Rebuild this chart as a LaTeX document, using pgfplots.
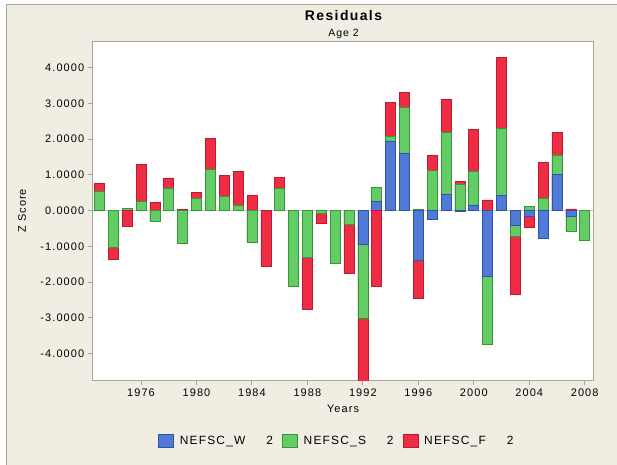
\documentclass[border=0pt]{standalone}
\usepackage{fontspec}
\setmainfont{Liberation Sans}[LetterSpace=10]
\usepackage{pgfplots}
\pgfplotsset{compat=1.18}
\usepackage{pgfplotstable}

\definecolor{bgc}{RGB}{240,238,226}
\definecolor{framec}{RGB}{168,166,156}
\definecolor{bfill}{RGB}{80,122,214}
\definecolor{bedge}{RGB}{50,82,170}
\definecolor{gfill}{RGB}{100,204,100}
\definecolor{gedge}{RGB}{55,150,55}
\definecolor{rfill}{RGB}{238,44,68}
\definecolor{redge}{RGB}{190,25,45}

\pgfplotstableread{
year W S F
1973 0 0.55 0.22
1974 0 -1.03 -0.33
1975 0 0.07 -0.45
1976 0 0.27 1.03
1977 0 -0.31 0.23
1978 0 0.64 0.28
1979 0 -0.92 0.04
1980 0 0.36 0.15
1981 0 1.15 0.88
1982 0 0.39 0.60
1983 0 0.14 0.95
1984 0 -0.89 0.43
1985 0 0 -1.55
1986 0 0.62 0.32
1987 0 -2.13 0.01
1988 0 -1.31 -1.45
1989 0 -0.08 -0.27
1990 0 -1.48 0.01
1991 0 -0.37 -1.37
1992 -0.95 -2.06 -1.90
1993 0.25 0.41 -2.13
1994 1.93 0.14 0.96
1995 1.60 1.29 0.43
1996 -1.38 0.03 -1.06
1997 -0.25 1.13 0.42
1998 0.46 1.73 0.93
1999 -0.03 0.75 0.06
2000 0.15 0.95 1.18
2001 -1.83 -1.90 0.30
2002 0.43 1.87 2.00
2003 -0.40 -0.33 -1.60
2004 -0.17 0.13 -0.30
2005 -0.78 0.34 1.02
2006 1.01 0.55 0.62
2007 -0.17 -0.41 0.05
2008 0 -0.83 0
}\resid

\pgfplotsset{
  mybar/.style={ybar, bar width=10bp, bar shift=0pt, line width=0.6bp, forget plot},
  pos/.style={restrict y to domain=0.001:100},
  neg/.style={restrict y to domain=-100:-0.001},
}

\begin{document}
\begin{tikzpicture}
\useasboundingbox (0,0) rectangle (617bp,465bp);
\fill[white] (0,0) rectangle (617bp,465bp);
\fill[bgc] (6.5bp,0) rectangle (617bp,460.7bp);
\draw[framec, line width=1.2bp] (6.5bp,0) -- (6.5bp,460.7bp) -- (617bp,460.7bp);
\node[font=\bfseries\fontsize{14}{16}\selectfont] at (343.5bp,449.5bp) {Residuals};
\node[font=\fontsize{10.5}{12}\selectfont] at (343.5bp,431.5bp) {Age 2};
\begin{axis}[
  at={(92.7bp,85bp)}, anchor=south west,
  scale only axis, width=500.6bp, height=338.3bp,
  xmin=1972.515, xmax=2008.62, ymin=-4.74, ymax=4.73,
  axis background/.style={fill=white},
  axis line style={framec, line width=0.9bp},
  tick style={framec, line width=0.9bp},
  tick align=outside, major tick length=5bp, tick pos=left,
  xtick={1976,1980,...,2008}, ytick={-4,-3,...,4},
  /pgf/number format/assume math mode=true,
  x tick label style={/pgf/number format/set thousands separator={}, font=\fontsize{11}{13}\selectfont},
  y tick label style={/pgf/number format/fixed, /pgf/number format/fixed zerofill, /pgf/number format/precision=4, font=\fontsize{11}{13}\selectfont},
  extra y ticks={0}, extra y tick labels={},
  extra y tick style={grid=major, major grid style={color=black!22, line width=0.8bp}, major tick length=0pt},
  xlabel={Years}, ylabel={Z Score},
  label style={font=\fontsize{11}{13}\selectfont},
  xlabel style={at={(axis description cs:0.5,-0.0857)}, anchor=center},
  ylabel style={at={(axis description cs:-0.141,0.5)}, anchor=center},
  legend columns=-1,
  legend style={at={(axis description cs:0.1305,-0.18)}, anchor=west, draw=none, fill=none,
    font=\fontsize{12}{14}\selectfont, inner sep=0pt,
    /tikz/every odd column/.append style={column sep=4bp},
    /tikz/every even column/.append style={column sep=7bp}},
  legend image code/.code={\draw[#1] (0bp,-6.5bp) rectangle (15bp,6.5bp);},
]
\addlegendimage{fill=bfill, draw=bedge, line width=0.6bp}
\addlegendentry{NEFSC\_W\hspace{21bp}2}
\addlegendimage{fill=gfill, draw=gedge, line width=0.6bp}
\addlegendentry{NEFSC\_S\hspace{21bp}2}
\addlegendimage{fill=rfill, draw=redge, line width=0.6bp}
\addlegendentry{NEFSC\_F\hspace{21bp}2}

% positive stacks (drawn as overlapping cumulative bars)
\addplot[mybar, pos, fill=rfill, draw=redge] table[x=year, y expr={max(\thisrow{W},0)+max(\thisrow{S},0)+max(\thisrow{F},0)}] {\resid};
\addplot[mybar, pos, fill=gfill, draw=gedge] table[x=year, y expr={max(\thisrow{W},0)+max(\thisrow{S},0)}] {\resid};
\addplot[mybar, pos, fill=bfill, draw=bedge] table[x=year, y expr={max(\thisrow{W},0)}] {\resid};
% negative stacks
\addplot[mybar, neg, fill=rfill, draw=redge] table[x=year, y expr={min(\thisrow{W},0)+min(\thisrow{S},0)+min(\thisrow{F},0)}] {\resid};
\addplot[mybar, neg, fill=gfill, draw=gedge] table[x=year, y expr={min(\thisrow{W},0)+min(\thisrow{S},0)}] {\resid};
\addplot[mybar, neg, fill=bfill, draw=bedge] table[x=year, y expr={min(\thisrow{W},0)}] {\resid};
\end{axis}
\end{tikzpicture}
\end{document}
